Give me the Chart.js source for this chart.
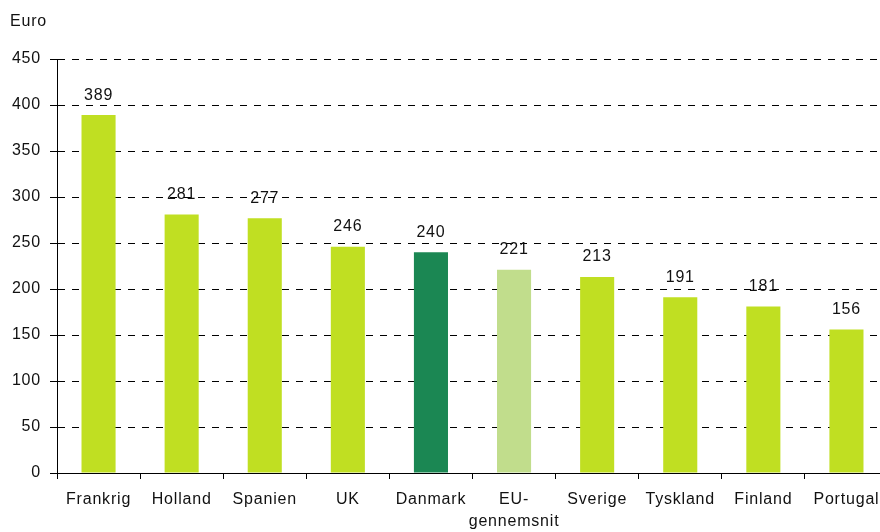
<!DOCTYPE html>
<html>
<head>
<meta charset="utf-8">
<script src="https://cdn.jsdelivr.net/npm/chart.js@4"></script>
<style>
  html, body { margin: 0; padding: 0; background: #fff; overflow: hidden; }
  #wrap { width: 890px; height: 532px; position: relative; }
</style>
</head>
<body>
<div id="wrap"><canvas id="chart"></canvas></div>
<script>
const labels = ['Frankrig', 'Holland', 'Spanien', 'UK', 'Danmark', ['EU-', 'gennemsnit'], 'Sverige', 'Tyskland', 'Finland', 'Portugal'];
const values = [389, 281, 277, 246, 240, 221, 213, 191, 181, 156];
const barColors = ['#c0df22', '#c0df22', '#c0df22', '#c0df22', '#1b8753', '#c1dd8c', '#c0df22', '#c0df22', '#c0df22', '#c0df22'];
const yTicks = [0, 50, 100, 150, 200, 250, 300, 350, 400, 450];

const font = 'Liberation Sans, Arial, sans-serif';

// wider letter spacing like the original export
const spacing = {
  id: 'spacing',
  beforeDraw(chart) { chart.ctx.letterSpacing = '0.8px'; }
};

// value labels above bars + "Euro" caption
const extras = {
  id: 'extras',
  afterDatasetsDraw(chart) {
    const ctx = chart.ctx;
    ctx.save();
    ctx.fillStyle = '#111';
    ctx.font = '16px ' + font;
    ctx.textAlign = 'center';
    ctx.textBaseline = 'middle';
    chart.getDatasetMeta(0).data.forEach((bar, i) => {
      ctx.fillText(String(values[i]), bar.x, bar.y - 20);
    });
    ctx.textAlign = 'left';
    ctx.fillText('Euro', 10, 22);
    ctx.restore();
  }
};

new Chart(document.getElementById('chart'), {
  type: 'bar',
  data: {
    labels: labels,
    datasets: [{
      data: values,
      backgroundColor: barColors,
      barPercentage: 0.41,
      categoryPercentage: 1
    }]
  },
  options: {
    responsive: true,
    maintainAspectRatio: false,
    animation: false,
    layout: { padding: { top: 59, left: 0, right: 2, bottom: 0 } },
    plugins: { legend: { display: false }, tooltip: { enabled: false } },
    scales: {
      x: {
        grid: {
          offset: true,
          drawOnChartArea: false,
          color: '#000',
          tickLength: 6
        },
        border: { color: '#000', width: 1 },
        ticks: {
          color: '#111',
          font: { family: font, size: 16, lineHeight: 1.4 },
          padding: 9,
          maxRotation: 0,
          autoSkip: false
        },
        afterFit(scale) { scale.height = 59; }
      },
      y: {
        min: 0,
        max: 450,
        afterBuildTicks(scale) { scale.ticks = yTicks.map(v => ({ value: v })); },
        grid: {
          color: '#000',
          tickLength: 7,
          drawTicks: true
        },
        border: { color: '#000', width: 1, dash: [7, 7] },
        ticks: {
          color: '#111',
          font: { family: font, size: 16 },
          padding: 9
        },
        afterFit(scale) { scale.width = 57; }
      }
    }
  },
  plugins: [spacing, extras]
});
</script>
</body>
</html>
